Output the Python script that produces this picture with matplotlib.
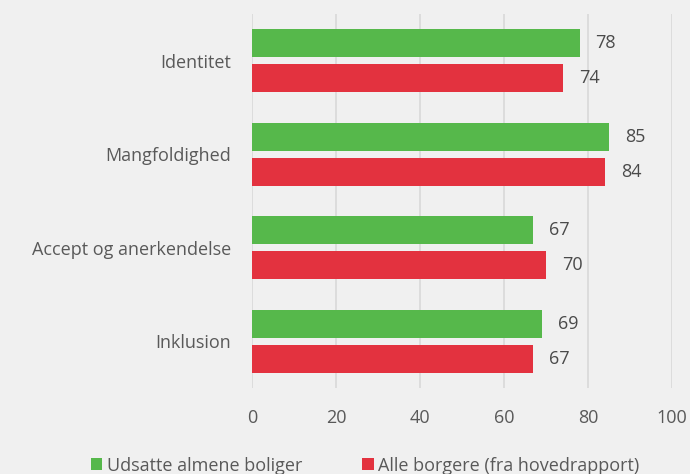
import matplotlib.pyplot as plt
import numpy as np

plt.rcParams['font.family'] = ['Open Sans', 'DejaVu Sans']

# data
categories = ['Identitet', 'Mangfoldighed', 'Accept og anerkendelse', 'Inklusion']
udsatte = [78, 85, 67, 69]
alle = [74, 84, 70, 67]
series_names = ['Udsatte almene boliger', 'Alle borgere (fra hovedrapport)']

bg = '#f0f0f0'
green = '#56b84b'
red = '#e3323f'
txt = '#595959'

fig = plt.figure(figsize=(6.9, 4.74), dpi=100, facecolor=bg)
ax = fig.add_axes([0.3652, 0.1814, 0.6087, 0.7890], facecolor=bg)

y = np.arange(len(categories))
h = 0.3
off = 0.187
b1 = ax.barh(y - off, udsatte, height=h, color=green, label=series_names[0], zorder=3)
b2 = ax.barh(y + off, alle, height=h, color=red, label=series_names[1], zorder=3)

for bars in (b1, b2):
    for r in bars:
        ax.text(r.get_width() + 3.8, r.get_y() + r.get_height() / 2, str(int(r.get_width())),
                va='center', ha='left', fontsize=13, color='#4a4a4a')

ax.set_xlim(0, 100)
ax.set_ylim(len(categories) - 0.5, -0.5)
ax.set_xticks(range(0, 101, 20))
ax.set_yticks(y)
ax.set_yticklabels(categories)
ax.grid(axis='x', color='#d9d9d9', linewidth=1.2, zorder=0)
ax.tick_params(axis='y', length=0, pad=15, labelsize=13, labelcolor=txt)
ax.tick_params(axis='x', length=0, pad=15, labelsize=13, labelcolor=txt)
for s in ax.spines.values():
    s.set_visible(False)

fig.legend(loc='lower center', bbox_to_anchor=(0.529, -0.036), ncol=2, frameon=False,
           fontsize=13, labelcolor=txt, handlelength=0.65, handleheight=0.65,
           handletextpad=0.25, columnspacing=3.3)

fig.savefig('out.png', dpi=100, facecolor=bg)
